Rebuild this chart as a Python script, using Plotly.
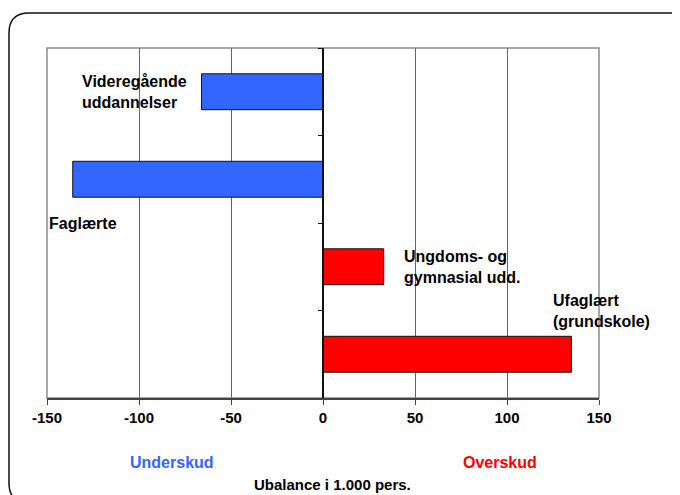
import plotly.graph_objects as go

# ---- data ----
categories = ["Videregående uddannelser", "Faglærte", "Ungdoms- og gymnasial udd.", "Ufaglært (grundskole)"]
values = [-66, -136, 33, 135]
bar_colors = ["#3366FF", "#3366FF", "#FF0000", "#FF0000"]
label_texts = ["Videregående<br>uddannelser", "Faglærte", "Ungdoms- og<br>gymnasial udd.", "Ufaglært<br>(grundskole)"]
label_x = [-132, -150, 43, 124]
label_y = [0, 1.5, 2, 2.5]
tick_vals = [-150, -100, -50, 0, 50, 100, 150]
tick_text = ["-150", "-100", "-50", "0", "50", "100", "150"]

FONT = "Liberation Sans, Arial, sans-serif"

# page offset (default body margin) and plot-area geometry in page pixels
O = 8
L, R, T, B = 47, 599, 48, 398
PW, PH = 680, 495
W, H = PW - O, PH - O


def px(x):
    return (x - L) / (R - L)


def py(y):
    return (B - y) / (B - T)


fig = go.Figure()
fig.add_trace(go.Bar(
    y=categories, x=values, orientation="h", width=0.41,
    marker=dict(color=bar_colors, line=dict(color="#111111", width=1)),
    hoverinfo="skip", showlegend=False,
))

# category labels
for t, xx, yy in zip(label_texts, label_x, label_y):
    fig.add_annotation(x=xx, y=yy, xref="x", yref="y", text=t, showarrow=False,
                       xanchor="left", yanchor="middle", align="left",
                       font=dict(family=FONT, size=16, color="#000000", weight="bold"))

# Underskud / Overskud / axis title
fig.add_annotation(x=-82, y=py(462), xref="x", yref="paper", text="<b>Underskud</b>",
                   showarrow=False, xanchor="center", yanchor="middle",
                   font=dict(family=FONT, size=16, color="#3366FF"))
fig.add_annotation(x=96, y=py(462), xref="x", yref="paper", text="<b>Overskud</b>",
                   showarrow=False, xanchor="center", yanchor="middle",
                   font=dict(family=FONT, size=16, color="#FF0000"))
fig.add_annotation(x=px(332.5), y=py(484), xref="paper", yref="paper",
                   text="<b>Ubalance i 1.000 pers.</b>", showarrow=False,
                   xanchor="center", yanchor="middle",
                   font=dict(family=FONT, size=15, color="#000000"))

# plot-area frame
fig.add_shape(type="rect", xref="paper", yref="paper", x0=0, x1=1, y0=0, y1=1,
              line=dict(color="#8c8c8c", width=1.5), layer="below")

# rounded outer border
bl, bt, br, bb, r = 9, 13, 690, 503, 20
path = (f"M {px(bl + r)} {py(bt)} L {px(br - r)} {py(bt)} Q {px(br)} {py(bt)} {px(br)} {py(bt + r)} "
        f"L {px(br)} {py(bb - r)} Q {px(br)} {py(bb)} {px(br - r)} {py(bb)} "
        f"L {px(bl + r)} {py(bb)} Q {px(bl)} {py(bb)} {px(bl)} {py(bb - r)} "
        f"L {px(bl)} {py(bt + r)} Q {px(bl)} {py(bt)} {px(bl + r)} {py(bt)} Z")
fig.add_shape(type="path", xref="paper", yref="paper", path=path,
              line=dict(color="#111111", width=1.5))

fig.update_layout(
    width=W, height=H,
    margin=dict(l=L - O, r=PW - R, t=T - O, b=PH - B, pad=0),
    paper_bgcolor="white", plot_bgcolor="white",
    xaxis=dict(
        range=[-150, 150], tickvals=tick_vals, ticktext=tick_text,
        showgrid=True, gridcolor="#666666", gridwidth=1,
        zeroline=True, zerolinecolor="#111111", zerolinewidth=1.5,
        showline=True, linecolor="#444444", linewidth=2,
        ticks="outside", ticklen=5, tickcolor="#444444", tickwidth=1,
        tickfont=dict(family=FONT, size=15, color="#000000", weight="bold"),
        fixedrange=True,
    ),
    yaxis=dict(
        type="category", categoryorder="array", categoryarray=categories,
        autorange="reversed",
        anchor="free", position=0.5,
        showline=True, linecolor="#111111", linewidth=1.5,
        ticks="outside", ticklen=4, tickcolor="#111111", tickson="boundaries",
        showticklabels=False, showgrid=False, zeroline=False,
        fixedrange=True,
    ),
    font=dict(family=FONT),
)

fig.write_html("out.html")
